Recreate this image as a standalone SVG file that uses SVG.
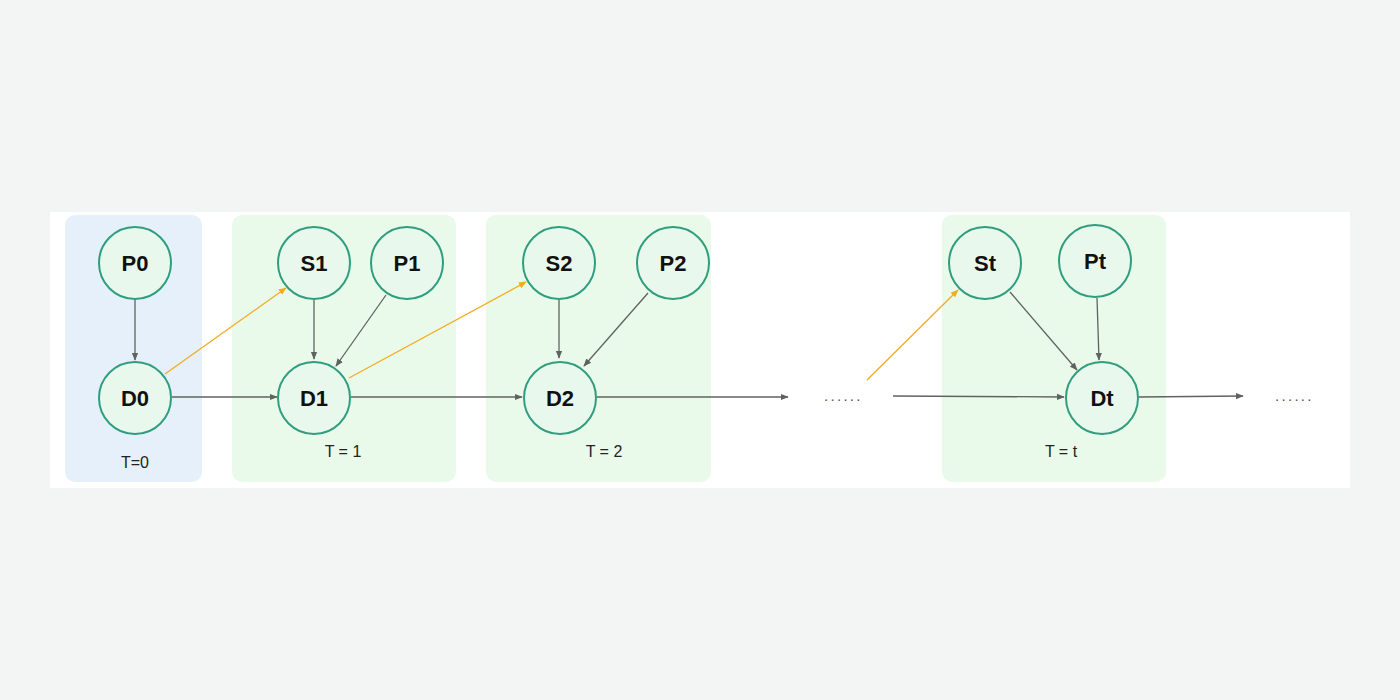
<svg xmlns="http://www.w3.org/2000/svg" width="1400" height="700" viewBox="0 0 1400 700">
<defs>
<marker id="ag" viewBox="0 0 10 10" refX="9" refY="5" markerWidth="8" markerHeight="8" markerUnits="userSpaceOnUse" orient="auto"><path d="M0,1 L10,5 L0,9 z" fill="#5f6360"/></marker>
<marker id="ao" viewBox="0 0 10 10" refX="9" refY="5" markerWidth="8" markerHeight="8" markerUnits="userSpaceOnUse" orient="auto"><path d="M0,1 L10,5 L0,9 z" fill="#f2ac1e"/></marker>
</defs>
<style>
.node circle{fill:#e9f8ec;stroke:#2f9e7f;stroke-width:2}
.node text{font-family:"Liberation Sans",Arial,sans-serif;font-weight:bold;font-size:22px;fill:#111;text-anchor:middle}
.lbl{font-family:"Liberation Sans",Arial,sans-serif;font-size:16px;fill:#222;text-anchor:middle}
.g{stroke:#5f6360;stroke-width:1.3;fill:none;marker-end:url(#ag)}
.o{stroke:#f2ac1e;stroke-width:1.3;fill:none;marker-end:url(#ao)}
.dots{font-family:"Liberation Sans",Arial,sans-serif;font-size:15px;fill:#555;letter-spacing:2.3px}
</style>
<rect width="1400" height="700" fill="#f3f5f4"/>
<rect x="50" y="212" width="1300" height="276" fill="#ffffff"/>
<g id="frames">
<rect x="65" y="215" width="137" height="267" rx="10" fill="#e6f0fb"/>
<rect x="232" y="215" width="224" height="267" rx="10" fill="#eafaea"/>
<rect x="486" y="215" width="225" height="267" rx="10" fill="#eafaea"/>
<rect x="942" y="215" width="224" height="267" rx="10" fill="#eafaea"/>
</g>
<g id="labels">
<text class="lbl" x="135" y="468">T=0</text>
<text class="lbl" x="343" y="457">T = 1</text>
<text class="lbl" x="604" y="457">T = 2</text>
<text class="lbl" x="1061" y="457">T = t</text>
<text class="dots" x="824" y="401">......</text>
<text class="dots" x="1275" y="401">......</text>
</g>
<g id="connectors">
<line class="g" x1="135" y1="299" x2="135" y2="360"/>
<line class="g" x1="172" y1="397" x2="277" y2="397"/>
<line class="g" x1="351" y1="397" x2="522" y2="397"/>
<line class="g" x1="597" y1="397" x2="788" y2="397"/>
<line class="g" x1="893" y1="396" x2="1064" y2="397"/>
<line class="g" x1="1139" y1="397" x2="1243" y2="396"/>
<line class="g" x1="314" y1="300" x2="314" y2="359"/>
<line class="g" x1="386" y1="295" x2="336" y2="366"/>
<line class="g" x1="559" y1="300" x2="559" y2="358"/>
<line class="g" x1="648" y1="293" x2="584" y2="366"/>
<line class="g" x1="1010" y1="292" x2="1077" y2="370"/>
<line class="g" x1="1097" y1="298" x2="1099" y2="360"/>
<line class="o" x1="165" y1="374" x2="286" y2="288"/>
<line class="o" x1="349" y1="378" x2="526" y2="282"/>
<line class="o" x1="867" y1="380" x2="958" y2="290"/>
</g>
<g id="P0" class="node"><circle cx="135" cy="263" r="36"/><text x="135" y="271">P0</text></g>
<g id="D0" class="node"><circle cx="135" cy="398" r="36"/><text x="135" y="406">D0</text></g>
<g id="S1" class="node"><circle cx="314" cy="263" r="36"/><text x="314" y="271">S1</text></g>
<g id="P1" class="node"><circle cx="407" cy="263" r="36"/><text x="407" y="271">P1</text></g>
<g id="D1" class="node"><circle cx="314" cy="398" r="36"/><text x="314" y="406">D1</text></g>
<g id="S2" class="node"><circle cx="559" cy="263" r="36"/><text x="559" y="271">S2</text></g>
<g id="P2" class="node"><circle cx="673" cy="263" r="36"/><text x="673" y="271">P2</text></g>
<g id="D2" class="node"><circle cx="560" cy="398" r="36"/><text x="560" y="406">D2</text></g>
<g id="St" class="node"><circle cx="985" cy="263" r="36"/><text x="985" y="271">St</text></g>
<g id="Pt" class="node"><circle cx="1095" cy="261" r="36"/><text x="1095" y="269">Pt</text></g>
<g id="Dt" class="node"><circle cx="1102" cy="398" r="36"/><text x="1102" y="406">Dt</text></g>
</svg>
